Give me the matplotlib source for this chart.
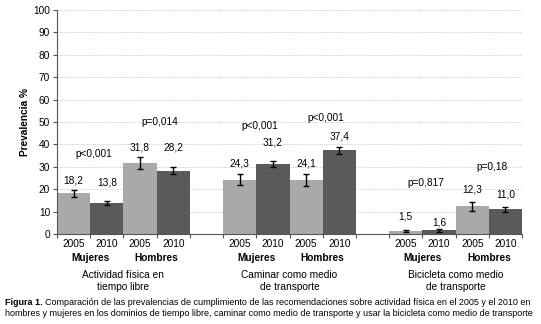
import matplotlib.pyplot as plt

plt.rcParams['font.family'] = ['Liberation Sans', 'DejaVu Sans']

# ---------------------------------------------------------------
# datos
DOMINIOS = ["Actividad física en\ntiempo libre",
            "Caminar como medio\nde transporte",
            "Bicicleta como medio\nde transporte"]
SEXOS = ["Mujeres", "Hombres"]
ANIOS = ["2005", "2010"]

# orden: Mujeres 2005, Mujeres 2010, Hombres 2005, Hombres 2010
VALORES = [
    [18.2, 13.8, 31.8, 28.2],
    [24.3, 31.2, 24.1, 37.4],
    [1.5, 1.6, 12.3, 11.0],
]
ERRORES = [
    [1.6, 0.95, 2.75, 1.55],
    [2.5, 1.25, 2.5, 1.6],
    [0.5, 0.5, 1.9, 1.2],
]
P_VALORES = [
    ["p<0,001", "p=0,014"],
    ["p<0,001", "p<0,001"],
    ["p=0,817", "p=0,18"],
]

# altura de las etiquetas
LABEL_Y = [
    [24.0, 23.1, 38.5, 38.5],
    [31.5, 40.7, 31.5, 43.7],
    [7.9, 5.2, 19.8, 17.6],
]
P_LABEL_Y = [
    [35.5, 50.0],
    [48.2, 52.0],
    [22.8, 30.0],
]

CAPTION_1 = ("Comparación de las prevalencias de cumplimiento de las recomendaciones "
             "sobre actividad física en el 2005 y el 2010 en")
CAPTION_2 = ("hombres y mujeres en los dominios de tiempo libre, caminar como medio de "
             "transporte y usar la bicicleta como medio de transporte")
# ---------------------------------------------------------------

COLORS = ["#a9a9a9", "#5a5a5a"]
FS = 7.3
FS_CAP = 6.5

fig = plt.figure(figsize=(5.41, 3.24), dpi=100)
ax = fig.add_axes([0.1054, 0.2778, 0.8595, 0.6914])

edges = []
for g, dom in enumerate(DOMINIOS):
    base = g * 5
    for i in range(4):
        x = base + i
        v = VALORES[g][i]
        ax.bar(x, v, width=1.0, color=COLORS[i % 2], linewidth=0, zorder=2)
        ax.errorbar(x, v, yerr=ERRORES[g][i], fmt="none", ecolor="black",
                    elinewidth=1.0, capsize=2.5, capthick=1.0, zorder=3)
        ax.text(x, LABEL_Y[g][i], f"{v:.1f}".replace(".", ","), ha="center",
                va="center", fontsize=FS)
        ax.text(x, -4.4, ANIOS[i % 2], ha="center", va="center", fontsize=FS,
                clip_on=False)
    for s in range(2):
        xc = base + 2 * s + 0.5
        ax.text(xc + 0.1, P_LABEL_Y[g][s], P_VALORES[g][s], ha="center",
                va="center", fontsize=FS)
        ax.text(xc, -10.6, SEXOS[s], ha="center", va="center", fontsize=FS,
                fontweight="bold", clip_on=False)
    ax.text(base + 1.5, -21.1, dom, ha="center", va="center", fontsize=FS,
            linespacing=1.25, clip_on=False)
    edges += [base - 0.5 + k for k in range(5)]

ax.set_xlim(-0.5, 13.5)
ax.set_ylim(0, 100)
ax.set_yticks(range(0, 101, 10))
ax.set_xticks(edges)
ax.set_xticklabels([])
ax.tick_params(axis="y", labelsize=FS, length=3, width=0.8, color="#555555", pad=2)
ax.tick_params(axis="x", length=3, width=0.8, color="#555555")
ax.grid(axis="y", linestyle=(0, (1.5, 1.5)), linewidth=0.5, color="#bbbbbb", zorder=0)
ax.set_axisbelow(True)
for side in ["top", "right"]:
    ax.spines[side].set_visible(False)
for side in ["left", "bottom"]:
    ax.spines[side].set_color("#555555")
    ax.spines[side].set_linewidth(0.8)
ax.set_ylabel("Prevalencia %", fontsize=FS, fontweight="bold", labelpad=2)

# pie de figura: "Figura 1." en negrita seguido del texto normal
t = fig.text(0.009, 0.066, "Figura 1.", fontsize=FS_CAP, fontweight="bold",
             va="center")
fig.canvas.draw()
bb = t.get_window_extent().transformed(fig.transFigure.inverted())
fig.text(bb.x1 + 0.004, 0.066, CAPTION_1, fontsize=FS_CAP, va="center")
fig.text(0.009, 0.032, CAPTION_2, fontsize=FS_CAP, va="center")

fig.savefig("out.png", dpi=100)
